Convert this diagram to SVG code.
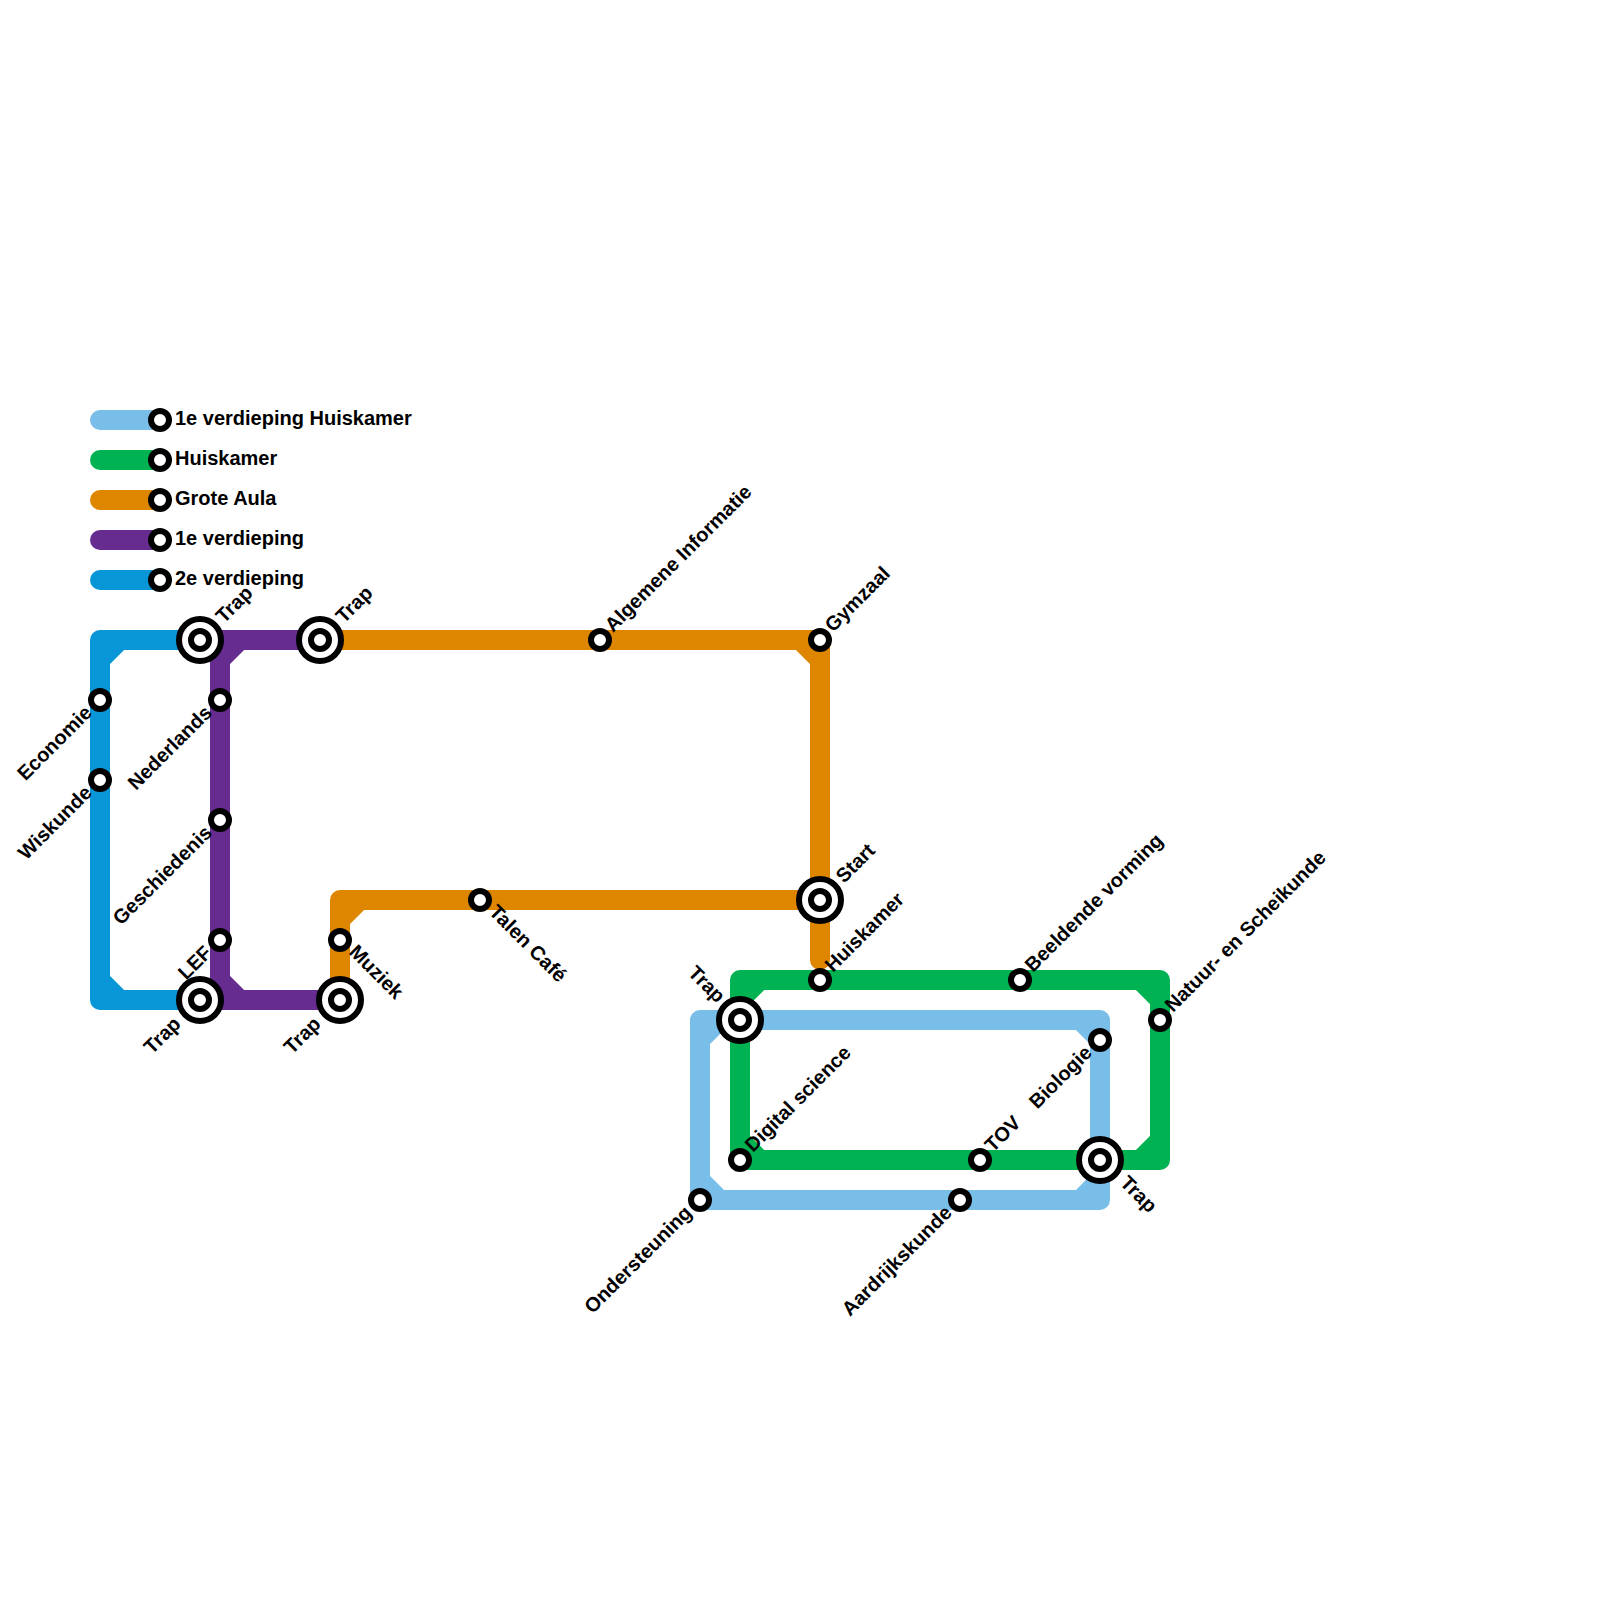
<svg xmlns="http://www.w3.org/2000/svg" width="1600" height="1600" viewBox="0 0 1600 1600">
<style>
.l{fill:none;stroke-width:20;stroke-linecap:round;stroke-linejoin:round}
.s{fill:#fff;stroke:#000;stroke-width:6}
text{font-family:"Liberation Sans",Arial,sans-serif;font-weight:700;font-size:20px;fill:#000}
.e{text-anchor:end}
</style>
<defs>
<g id="st"><circle class="s" r="9"/></g>
<g id="ix"><circle class="s" r="21"/><circle class="s" r="9"/></g>
</defs>
<rect width="1600" height="1600" fill="#fff"/>
<g id="connectors">
<path class="l" stroke="#79bde9" d="M100 420H160"/>
<path class="l" stroke="#00b251" d="M100 460H160"/>
<path class="l" stroke="#df8600" d="M100 500H160"/>
<path class="l" stroke="#662c90" d="M100 540H160"/>
<path class="l" stroke="#0896d7" d="M100 580H160"/>
<path class="l" stroke="#00b251" d="M740 1160V980H1160V1160H740M740 1000L760 980M1140 980L1160 1000M1160 1140L1140 1160M740 1140L760 1160"/>
<path class="l" stroke="#79bde9" d="M700 1200V1020H1100V1200H700M700 1040L720 1020M1080 1020L1100 1040M1100 1180L1080 1200M700 1180L720 1200"/>
<path class="l" stroke="#df8600" d="M320 640H820V960M800 640L820 660M820 900H340V1000M340 920L360 900"/>
<path class="l" stroke="#0896d7" d="M200 640H100V1000H200M100 660L120 640M100 980L120 1000"/>
<path class="l" stroke="#662c90" d="M200 640H320M220 640V1000M200 1000H340M220 660L240 640M220 980L240 1000"/>
</g>
<g id="legend">
<use href="#st" x="160" y="420"/><text x="175" y="425">1e verdieping Huiskamer</text>
<use href="#st" x="160" y="460"/><text x="175" y="465">Huiskamer</text>
<use href="#st" x="160" y="500"/><text x="175" y="505">Grote Aula</text>
<use href="#st" x="160" y="540"/><text x="175" y="545">1e verdieping</text>
<use href="#st" x="160" y="580"/><text x="175" y="585">2e verdieping</text>
</g>
<g id="n1"><use href="#ix" x="200" y="640"/><text transform="translate(224 624) rotate(-45)">Trap</text></g>
<g id="n2"><use href="#ix" x="320" y="640"/><text transform="translate(344 624) rotate(-45)">Trap</text></g>
<g id="n3"><use href="#st" x="600" y="640"/><text transform="translate(613 633) rotate(-45)">Algemene Informatie</text></g>
<g id="n4"><use href="#st" x="820" y="640"/><text transform="translate(833 633) rotate(-45)">Gymzaal</text></g>
<g id="n5"><use href="#st" x="100" y="700"/><text class="e" transform="translate(93 714) rotate(-45)">Economie</text></g>
<g id="n6"><use href="#st" x="100" y="780"/><text class="e" transform="translate(93 794) rotate(-45)">Wiskunde</text></g>
<g id="n7"><use href="#st" x="220" y="700"/><text class="e" transform="translate(213 714) rotate(-45)">Nederlands</text></g>
<g id="n8"><use href="#st" x="220" y="820"/><text class="e" transform="translate(213 834) rotate(-45)">Geschiedenis</text></g>
<g id="n9"><use href="#st" x="220" y="940"/><text class="e" transform="translate(213 954) rotate(-45)">LEF</text></g>
<g id="n10"><use href="#ix" x="200" y="1000"/><text class="e" transform="translate(182 1025) rotate(-45)">Trap</text></g>
<g id="n11"><use href="#ix" x="340" y="1000"/><text class="e" transform="translate(322 1025) rotate(-45)">Trap</text></g>
<g id="n12"><use href="#st" x="340" y="940"/><text transform="translate(348 953) rotate(45)">Muziek</text></g>
<g id="n13"><use href="#st" x="480" y="900"/><text transform="translate(488 913) rotate(45)">Talen Café</text></g>
<g id="n14"><use href="#ix" x="820" y="900"/><text transform="translate(844 884) rotate(-45)">Start</text></g>
<g id="n15"><use href="#st" x="820" y="980"/><text transform="translate(833 973) rotate(-45)">Huiskamer</text></g>
<g id="n16"><use href="#st" x="1020" y="980"/><text transform="translate(1033 973) rotate(-45)">Beeldende vorming</text></g>
<g id="n17"><use href="#st" x="1160" y="1020"/><text transform="translate(1173 1013) rotate(-45)">Natuur- en Scheikunde</text></g>
<g id="n18"><use href="#ix" x="740" y="1020"/><text class="e" transform="translate(717 1004) rotate(45)">Trap</text></g>
<g id="n19"><use href="#st" x="740" y="1160"/><text transform="translate(753 1153) rotate(-45)">Digital science</text></g>
<g id="n20"><use href="#st" x="980" y="1160"/><text transform="translate(993 1153) rotate(-45)">TOV</text></g>
<g id="n21"><use href="#st" x="1100" y="1040"/><text class="e" transform="translate(1093 1054) rotate(-45)">Biologie</text></g>
<g id="n22"><use href="#ix" x="1100" y="1160"/><text transform="translate(1119 1184) rotate(45)">Trap</text></g>
<g id="n23"><use href="#st" x="700" y="1200"/><text class="e" transform="translate(693 1214) rotate(-45)">Ondersteuning</text></g>
<g id="n24"><use href="#st" x="960" y="1200"/><text class="e" transform="translate(953 1214) rotate(-45)">Aardrijkskunde</text></g>
</svg>
